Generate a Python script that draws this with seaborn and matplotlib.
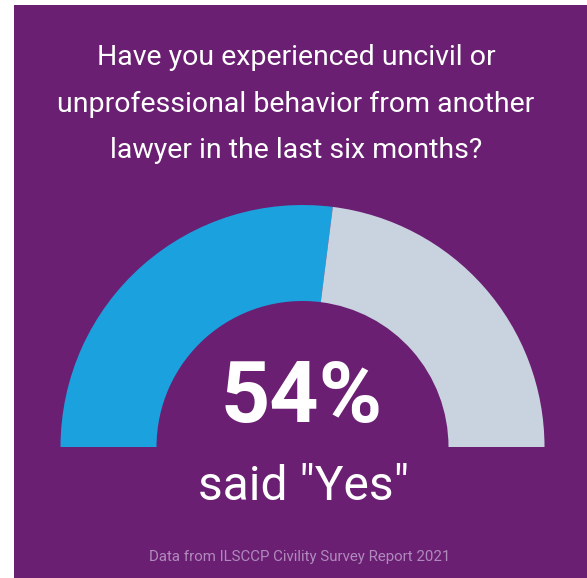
import matplotlib
matplotlib.use("Agg")
import matplotlib.pyplot as plt
import seaborn as sns
from matplotlib.patches import Rectangle

sns.set_theme(style="white")
plt.rcParams['font.family'] = ['Roboto', 'DejaVu Sans']

# Data
categories = ["Yes", "No"]
values = [54, 46]
colors = ["#1BA1DE", "#C8D3DF"]
title_lines = ["Have you experienced uncivil or",
               "unprofessional behavior from another",
               "lawyer in the last six months?"]
big_label = "54%"
sub_label = 'said "Yes"'
source = "Data from ILSCCP Civility Survey Report 2021"

W, H = 587, 578
BG = "#6B1F73"
fig = plt.figure(figsize=(W / 100, H / 100), dpi=100)
fig.patch.set_facecolor("white")
ax = fig.add_axes([0, 0, 1, 1])
ax.set_xlim(0, W)
ax.set_ylim(0, H)
ax.set_aspect("equal")
ax.axis("off")
ax.add_patch(Rectangle((14, 0), W - 14, H - 5, facecolor=BG, edgecolor="none", zorder=0))

# half-donut gauge: visible values + hidden bottom half
total = sum(values)
ax.pie(values + [total], colors=colors + ["none"], startangle=180, counterclock=False,
       radius=242, center=(302.5, H - 447), frame=True,
       wedgeprops=dict(width=242 - 146, edgecolor="none", linewidth=0))
ax.set_xlim(0, W)
ax.set_ylim(0, H)
ax.axis("off")

cx = 296
for i, line in enumerate(title_lines):
    ax.text(cx, H - (65 + i * 46.5), line, ha="center", va="baseline",
            color="white", fontsize=20.5)

ax.text(302, H - 422, big_label, ha="center", va="baseline", color="white",
        fontsize=62, fontweight="bold")
ax.text(303, H - 500, sub_label, ha="center", va="baseline", color="white",
        fontsize=34.5)
ax.text(300, H - 561, source, ha="center", va="baseline", color="#B08ABC",
        fontsize=10.8)

fig.savefig("out.png", dpi=100, facecolor=fig.get_facecolor())
